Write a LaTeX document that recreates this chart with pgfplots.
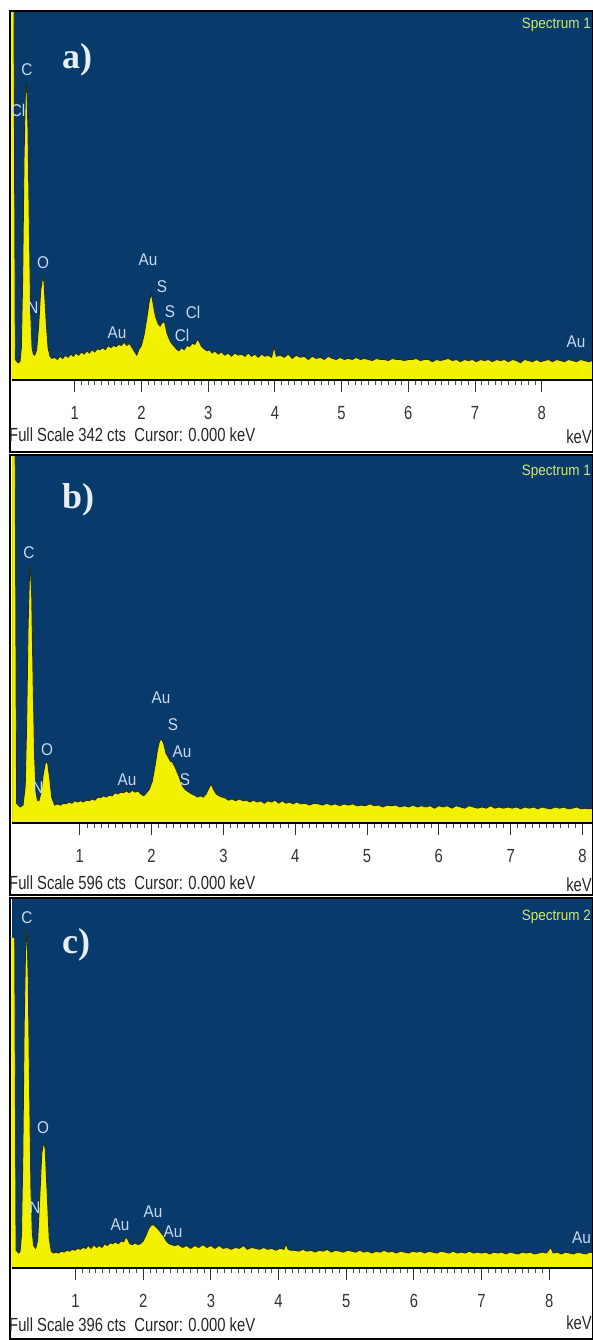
\documentclass[border=0pt]{standalone}
\usepackage{fontspec}
\usepackage{pgfplots}
\pgfplotsset{compat=1.18}
\setmainfont{Liberation Sans}
\newfontfamily\edsnarrow[FakeStretch=0.78]{Liberation Sans}
\newfontfamily\peakfont[FakeStretch=0.9]{Liberation Sans}
\newfontfamily\panelfont{Liberation Serif}

\definecolor{edsblue}{RGB}{8,58,108}
\definecolor{edsyellow}{RGB}{242,242,0}
\definecolor{edsedge}{RGB}{35,45,15}
\definecolor{peaklabel}{RGB}{200,218,240}
\definecolor{speclabel}{RGB}{212,232,110}
\definecolor{paneltext}{RGB}{232,238,244}

\pgfplotsset{
  eds/.style={
    scale only axis, width=580.5pt,
    ymin=0, enlargelimits=false,
    axis background/.style={fill=edsblue},
    axis line style={draw=none},
    ytick=\empty,
    xtick pos=bottom,
    xtick={1,...,8}, xticklabels={1,2,3,4,5,6,7,8},
    minor x tick num=9,
    tick align=outside,
    major tick length=12pt, minor tick length=5pt,
    every major tick/.append style={draw=black!80, line width=1pt},
    every minor tick/.append style={draw=black!70, line width=0.9pt},
    xticklabel style={font=\edsnarrow\fontsize{19}{19}\selectfont, text=black!80, yshift=-11pt},
  },
  spectrum/.style={fill=edsyellow, draw=edsedge, line width=0.9pt},
}

\tikzset{
  peak/.style={text=peaklabel, font=\peakfont\fontsize{17}{17}\selectfont, inner sep=0pt},
  spec/.style={text=speclabel, font=\peakfont\fontsize{15}{15}\selectfont, inner sep=0pt, anchor=east},
  panel/.style={text=paneltext, font=\panelfont\bfseries\fontsize{36}{36}\selectfont, inner sep=0pt, anchor=west},
  scaleline/.style={text=black!85, font=\edsnarrow\fontsize{19}{19}\selectfont, inner sep=0pt},
  baseline/.style={black, line width=2.2pt},
}

\begin{document}
\begin{tikzpicture}
\path[use as bounding box] (0pt,0pt) rectangle (593pt,-1340pt);

% ---------------- a) ----------------
\begin{axis}[eds, name=pa, at={(12pt,-380pt)}, anchor=south west, height=369pt,
  xmin=0.06, xmax=8.76, ymax=342]
\addplot[spectrum] table {
x y
0.05 342
0.09 342
0.11 19
0.15 16
0.18 17
0.20 30
0.22 95
0.24 205
0.26 265
0.28 275
0.30 232
0.32 140
0.34 62
0.36 30
0.38 24
0.40 23
0.43 28
0.46 51
0.49 83
0.52 95
0.54 91
0.57 56
0.60 30
0.63 22
0.66 20
0.70 21
0.74 19
0.78 22
0.82 20
0.86 23
0.90 21
0.94 24
0.98 22
1.02 25
1.06 23
1.10 26
1.14 24
1.18 27
1.22 25
1.26 28
1.30 26
1.34 29
1.38 28
1.42 30
1.46 28
1.50 32
1.54 30
1.58 32
1.62 31
1.66 33
1.70 32
1.74 35
1.78 32
1.82 34
1.86 30
1.90 26
1.93 23
1.96 28
2.00 32
2.04 42
2.08 57
2.12 74
2.15 80
2.18 69
2.21 59
2.25 52
2.28 50
2.32 54
2.35 53
2.38 44
2.41 39
2.44 35
2.48 32
2.52 29
2.56 27
2.60 30
2.64 28
2.68 32
2.72 31
2.76 34
2.80 33
2.84 38
2.87 35
2.90 31
2.94 29
2.98 27
3.02 28
3.06 25
3.10 27
3.15 24
3.20 26
3.25 23
3.30 25
3.35 22
3.40 25
3.45 23
3.50 24
3.55 22
3.60 25
3.65 22
3.70 24
3.75 21
3.80 24
3.85 22
3.90 23
3.95 21
3.99 31
4.02 22
4.08 23
4.14 21
4.20 24
4.26 20
4.32 23
4.38 21
4.44 22
4.50 19
4.56 22
4.62 20
4.68 21
4.74 19
4.80 22
4.86 20
4.92 19
4.98 21
5.04 19
5.10 20
5.16 19
5.22 21
5.28 19
5.34 20
5.40 19
5.46 18
5.52 20
5.58 19
5.64 19
5.70 18
5.76 20
5.82 19
5.88 19
5.94 18
6.00 19
6.06 19
6.12 20
6.18 18
6.24 19
6.30 19
6.36 17
6.42 19
6.48 18
6.54 19
6.60 20
6.66 18
6.72 19
6.78 17
6.84 19
6.90 18
6.96 19
7.02 17
7.08 19
7.14 18
7.20 19
7.26 17
7.32 19
7.38 18
7.44 19
7.50 17
7.56 19
7.62 18
7.68 16
7.74 19
7.80 18
7.86 17
7.92 19
7.98 17
8.04 18
8.10 19
8.16 17
8.22 19
8.28 18
8.34 17
8.40 19
8.46 18
8.52 17
8.58 19
8.64 18
8.70 17
8.76 18
} \closedcycle;
\end{axis}
\draw[baseline] (pa.south west) -- (pa.south east);

% ---------------- b) ----------------
\begin{axis}[eds, name=pb, at={(12pt,-823pt)}, anchor=south west, height=368pt,
  xmin=0.056, xmax=8.14, ymax=596]
\addplot[spectrum] table {
x y
0.05 596
0.10 596
0.12 32
0.17 26
0.21 29
0.24 60
0.26 160
0.28 320
0.30 405
0.31 415
0.33 370
0.35 230
0.37 110
0.39 50
0.41 37
0.43 36
0.46 49
0.49 78
0.52 97
0.55 99
0.58 73
0.61 41
0.65 29
0.69 31
0.73 29
0.77 32
0.81 31
0.85 34
0.89 32
0.93 36
0.97 34
1.01 36
1.05 34
1.09 37
1.13 36
1.17 39
1.21 37
1.25 42
1.29 41
1.33 44
1.37 42
1.41 45
1.45 44
1.49 49
1.53 47
1.57 50
1.61 49
1.65 52
1.69 49
1.73 53
1.77 50
1.81 52
1.85 47
1.89 44
1.93 49
1.97 55
2.01 68
2.05 94
2.08 117
2.11 133
2.14 136
2.17 128
2.20 113
2.23 107
2.26 100
2.29 99
2.32 92
2.35 84
2.38 76
2.41 66
2.44 58
2.48 53
2.52 50
2.56 47
2.60 45
2.64 42
2.68 44
2.72 42
2.76 47
2.80 57
2.83 63
2.86 55
2.90 47
2.94 44
2.98 42
3.02 41
3.07 37
3.12 39
3.17 36
3.22 39
3.27 36
3.32 37
3.37 34
3.42 37
3.47 34
3.52 36
3.57 32
3.62 36
3.67 34
3.72 37
3.77 32
3.82 36
3.87 32
3.92 34
3.97 31
4.02 34
4.08 31
4.14 32
4.20 29
4.26 32
4.32 31
4.38 29
4.44 32
4.50 29
4.56 31
4.62 28
4.68 31
4.74 29
4.80 31
4.86 28
4.92 29
4.98 28
5.04 31
5.10 28
5.16 29
5.22 26
5.28 29
5.34 28
5.40 29
5.46 26
5.52 28
5.58 26
5.64 29
5.70 26
5.76 28
5.82 26
5.88 28
5.94 24
6.00 28
6.06 26
6.12 28
6.18 24
6.24 28
6.30 26
6.36 24
6.42 28
6.48 26
6.54 24
6.60 26
6.66 24
6.72 28
6.78 24
6.84 26
6.90 24
6.96 26
7.02 24
7.08 26
7.14 23
7.20 26
7.26 24
7.32 26
7.38 23
7.44 26
7.50 24
7.56 23
7.62 26
7.68 24
7.74 26
7.80 23
7.86 24
7.92 26
7.98 23
8.04 24
8.10 23
8.15 24
} \closedcycle;
\end{axis}
\draw[baseline] (pb.south west) -- (pb.south east);

% ---------------- c) ----------------
\begin{axis}[eds, name=pc, at={(12pt,-1268pt)}, anchor=south west, height=370pt,
  xmin=0.06, xmax=8.64, ymax=396]
\addplot[spectrum] table {
x y
0.05 354
0.10 354
0.12 19
0.16 16
0.18 18
0.20 35
0.22 120
0.24 260
0.26 340
0.28 362
0.30 310
0.32 190
0.34 85
0.36 38
0.38 24
0.41 21
0.44 30
0.47 75
0.50 123
0.53 135
0.55 128
0.58 80
0.61 32
0.64 18
0.67 16
0.71 17
0.75 16
0.79 18
0.83 17
0.87 19
0.91 18
0.95 20
0.99 19
1.03 21
1.07 20
1.11 22
1.15 21
1.19 24
1.23 21
1.27 25
1.31 22
1.35 24
1.39 22
1.43 26
1.47 24
1.51 27
1.55 26
1.59 28
1.63 26
1.67 29
1.71 28
1.74 33
1.77 31
1.80 26
1.84 25
1.88 27
1.92 25
1.96 26
2.00 29
2.04 35
2.08 42
2.12 46
2.16 46
2.20 43
2.24 40
2.27 37
2.30 34
2.34 29
2.38 26
2.42 25
2.46 24
2.52 25
2.58 22
2.64 24
2.70 21
2.76 24
2.82 22
2.88 25
2.94 22
3.00 24
3.06 21
3.12 24
3.18 21
3.24 22
3.30 20
3.36 22
3.42 21
3.48 24
3.54 20
3.60 22
3.66 21
3.72 20
3.78 22
3.84 20
3.90 21
3.96 19
4.02 21
4.08 20
4.11 26
4.14 20
4.18 19
4.24 19
4.30 18
4.36 20
4.42 18
4.48 19
4.54 17
4.60 19
4.66 18
4.72 20
4.78 17
4.84 19
4.90 18
4.96 17
5.02 19
5.08 18
5.14 17
5.20 19
5.26 17
5.32 18
5.38 16
5.44 18
5.50 17
5.56 19
5.62 17
5.68 18
5.74 16
5.80 18
5.86 17
5.92 16
5.98 18
6.04 17
6.10 18
6.16 16
6.22 18
6.28 17
6.34 16
6.40 18
6.46 17
6.52 16
6.58 18
6.64 16
6.70 17
6.76 16
6.82 18
6.88 16
6.94 17
7.00 16
7.06 17
7.12 15
7.18 17
7.24 16
7.30 17
7.36 15
7.42 17
7.48 16
7.54 15
7.60 17
7.66 16
7.72 17
7.78 15
7.84 16
7.90 17
7.96 16
8.02 22
8.06 16
8.12 17
8.18 15
8.24 17
8.30 16
8.36 15
8.42 17
8.48 16
8.54 15
8.60 17
8.65 16
} \closedcycle;
\end{axis}
\draw[baseline] (pc.south west) -- (pc.south east);

% panel frames
\draw[black, line width=1.2pt] (10pt,-11pt) rectangle (592.4pt,-452pt);
\draw[black, line width=1.2pt] (10pt,-455pt) rectangle (592.4pt,-895pt);
\draw[black, line width=1.2pt] (10pt,-898pt) rectangle (592.4pt,-1339pt);

% scale lines under each spectrum
\node[scaleline, anchor=west] at (9pt,-435pt) {Full Scale 342 cts\ \ Cursor: 0.000 keV};
\node[scaleline, anchor=east] at (592pt,-437pt) {keV};
\node[scaleline, anchor=west] at (9pt,-883pt) {Full Scale 596 cts\ \ Cursor: 0.000 keV};
\node[scaleline, anchor=east] at (592pt,-885pt) {keV};
\node[scaleline, anchor=west] at (9pt,-1325pt) {Full Scale 396 cts\ \ Cursor: 0.000 keV};
\node[scaleline, anchor=east] at (592pt,-1323pt) {keV};

% panel letters and spectrum names
\node[panel] at (62pt,-60pt) {a)};
\node[panel] at (62pt,-500pt) {b)};
\node[panel] at (62pt,-945pt) {c)};
\node[spec] at (591pt,-25pt) {Spectrum 1};
\node[spec] at (591pt,-472pt) {Spectrum 1};
\node[spec] at (591pt,-917pt) {Spectrum 2};

% element labels, a)
\node[peak] at (27pt,-70pt) {C};
\node[peak] at (18pt,-110pt) {Cl};
\node[peak] at (43pt,-263pt) {O};
\node[peak] at (33pt,-308pt) {N};
\node[peak] at (117pt,-333pt) {Au};
\node[peak] at (148pt,-260pt) {Au};
\node[peak] at (162pt,-287pt) {S};
\node[peak] at (170pt,-312pt) {S};
\node[peak] at (193pt,-312pt) {Cl};
\node[peak] at (182pt,-335pt) {Cl};
\node[peak] at (576pt,-342pt) {Au};

% element labels, b)
\node[peak] at (29pt,-553pt) {C};
\node[peak] at (47pt,-750pt) {O};
\node[peak] at (38pt,-788pt) {N};
\node[peak] at (127pt,-780pt) {Au};
\node[peak] at (161pt,-698pt) {Au};
\node[peak] at (173pt,-725pt) {S};
\node[peak] at (182pt,-752pt) {Au};
\node[peak] at (185pt,-780pt) {S};

% element labels, c)
\node[peak] at (27pt,-918pt) {C};
\node[peak] at (43pt,-1128pt) {O};
\node[peak] at (35pt,-1208pt) {N};
\node[peak] at (120pt,-1225pt) {Au};
\node[peak] at (153pt,-1212pt) {Au};
\node[peak] at (173pt,-1232pt) {Au};
\node[peak, anchor=east] at (591pt,-1238pt) {Au};
\end{tikzpicture}
\end{document}
